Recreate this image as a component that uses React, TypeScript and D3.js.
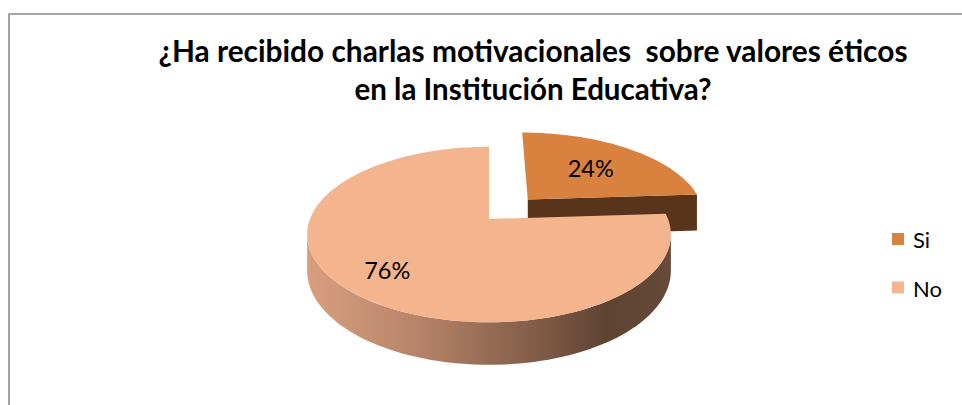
import React from 'react';
import * as d3 from 'd3';

// ---- data ----
const categories: string[] = ['Si', 'No'];
const values: number[] = [24, 76];
const percentLabels: string[] = ['24%', '76%'];
const titleLines: string[] = [
  '¿Ha recibido charlas motivacionales  sobre valores éticos',
  'en la Institución Educativa?',
];

// ---- style / layout ----
const W = 962;
const H = 405;
const topColors = ['#d9813f', '#f4b48e'];
const cutColors = ['#57341a', '#6b4a36'];
const legendColors = ['#d9813f', '#f5b590'];
const explode = [0.33, 0];
const labelR = [0.6, 0.75];

const CX = 489;
const CY = 219;
const RX = 179;
const RY = 85;
const P = 0.177; // perspective strength
const T = 35; // thickness

function proj(X: number, Z: number, h: number): [number, number] {
  const s = 1 / (1 - P * Z);
  return [CX + RX * X * s, CY + (RY * Z + h) * s];
}

const pieGen = d3.pie<number>().sort(null).value((d) => d);
const arcs = pieGen(values);
const line = d3.line<[number, number]>();

function sample(a0: number, a1: number): number[] {
  const n = Math.max(2, Math.ceil(((a1 - a0) / (2 * Math.PI)) * 180));
  return d3.range(n + 1).map((i) => a0 + ((a1 - a0) * i) / n);
}

const visL = Math.acos(-P);
const visR = 2 * Math.PI - visL;

export default function App() {
  const shapes = arcs.map((a, i) => {
    const mid = (a.startAngle + a.endAngle) / 2;
    const ox = explode[i] * Math.sin(mid);
    const oz = -explode[i] * Math.cos(mid);
    const angs = sample(a.startAngle, a.endAngle);
    const topPts: [number, number][] = [
      proj(ox, oz, 0),
      ...angs.map((t) => proj(ox + Math.sin(t), oz - Math.cos(t), 0)),
    ];
    const top = line(topPts) + 'Z';
    const w0 = Math.max(a.startAngle, visL);
    const w1 = Math.min(a.endAngle, visR);
    let wall: string | null = null;
    if (w1 > w0) {
      const wa = sample(w0, w1);
      const up = wa.map((t) => proj(ox + Math.sin(t), oz - Math.cos(t), 0));
      const dn = wa
        .slice()
        .reverse()
        .map((t) => proj(ox + Math.sin(t), oz - Math.cos(t), T));
      wall = line([...up, ...dn] as [number, number][]) + 'Z';
    }
    let cut: string | null = null;
    const e = a.endAngle;
    if (explode[i] > 0 && e > 0 && e < Math.PI) {
      const ex = ox + Math.sin(e);
      const ez = oz - Math.cos(e);
      cut =
        line([
          proj(ox, oz, 0),
          proj(ex, ez, 0),
          proj(ex, ez, T + 3),
          proj(ox, oz, T + 3),
        ]) + 'Z';
    }
    const lr = labelR[i];
    const lp = proj(ox + lr * Math.sin(mid), oz - lr * Math.cos(mid), 0);
    return { top, wall, cut, lp, i };
  });

  const [leftX] = proj(-1, P, 0);
  const [rightX] = proj(1, P, 0);

  return (
    <svg
      width={W}
      height={H}
      style={{ position: 'absolute', left: 0, top: 0, background: '#fff' }}
      fontFamily="Lato, 'Open Sans', sans-serif"
    >
      <defs>
        <linearGradient id="wallGrad" gradientUnits="userSpaceOnUse" x1={leftX} x2={rightX} y1={0} y2={0}>
          <stop offset="0" stopColor="#d9a07f" />
          <stop offset="0.3" stopColor="#b8846a" />
          <stop offset="0.6" stopColor="#86604b" />
          <stop offset="0.82" stopColor="#5e4333" />
          <stop offset="1" stopColor="#664a3a" />
        </linearGradient>
      </defs>
      <rect x={0} y={0} width={W} height={H} fill="#fff" />
      <path d={`M9,${H} V14 H${W}`} fill="none" stroke="#8c8c8c" strokeWidth={1.6} />

      {titleLines.map((t, k) => (
        <text
          key={k}
          x={533}
          y={61.5 + k * 38.5}
          textAnchor="middle"
          fontWeight="bold"
          fontSize={29.5}
          fill="#000"
          textLength={k === 0 ? 749 : 357}
          lengthAdjust="spacingAndGlyphs"
          style={{ whiteSpace: 'pre' }}
        >
          {t}
        </text>
      ))}

      {[0, 1].map((i) => {
        const sh = shapes[i];
        return (
          <g key={categories[i]}>
            {sh.wall && <path d={sh.wall} fill="url(#wallGrad)" />}
            {sh.cut && <path d={sh.cut} fill={cutColors[i]} />}
            <path d={sh.top} fill={topColors[i]} />
          </g>
        );
      })}

      {shapes.map((sh) => (
        <text
          key={'l' + sh.i}
          x={sh.lp[0]}
          y={sh.lp[1]}
          textAnchor="middle"
          dominantBaseline="central"
          fontSize={23.5}
          fill="#000"
        >
          {percentLabels[sh.i]}
        </text>
      ))}

      {categories.map((c, i) => (
        <g key={'lg' + c} transform={`translate(892, ${233 + i * 48.5})`}>
          <rect x={0} y={0} width={12} height={12} fill={legendColors[i]} />
          <text x={21} y={6.5} dominantBaseline="central" fontSize={22} fill="#000">
            {c}
          </text>
        </g>
      ))}
    </svg>
  );
}
